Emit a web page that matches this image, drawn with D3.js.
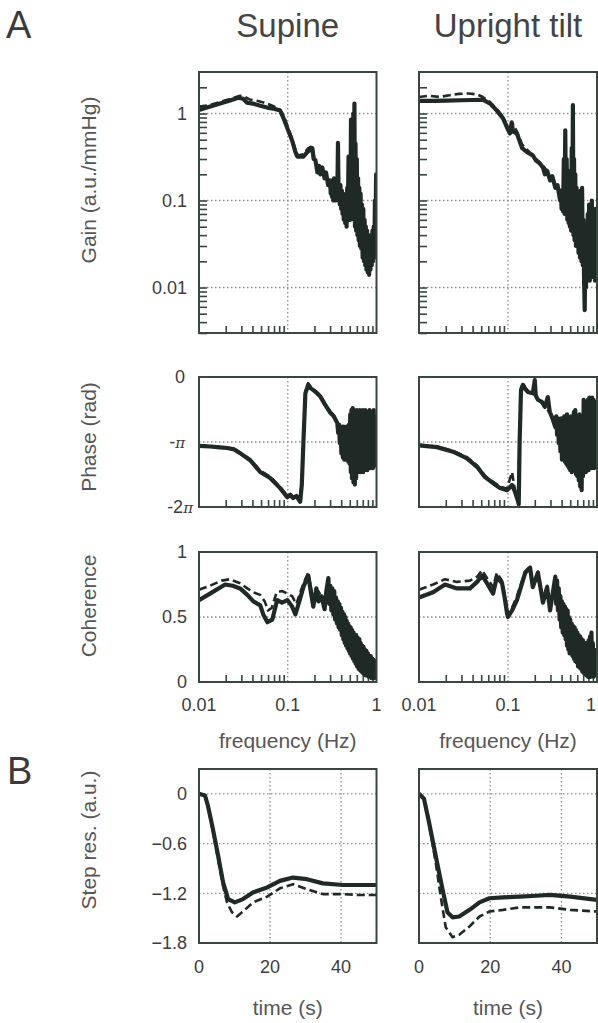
<!DOCTYPE html>
<html>
<head>
<meta charset="utf-8">
<script src="https://cdn.jsdelivr.net/npm/d3@7"></script>
<style>
  body { margin: 0; background: #fff; }
  svg text { font-family: "Liberation Sans", Arial, Helvetica, sans-serif; }
</style>
</head>
<body>
<svg id="fig" width="598" height="1023"></svg>
<script>
// ---- data: [frequency (Hz), value] ----
var supineGainSolid = [
  [0.010,1.10],[0.0123,1.17],[0.0173,1.30],[0.0224,1.41],[0.0276,1.52],[0.0314,1.48],[0.0348,1.33],
  [0.0407,1.30],[0.0489,1.23],[0.0586,1.17],[0.0685,1.14],[0.082,1.08],[0.089,0.90],[0.101,0.64],
  [0.112,0.49],[0.122,0.36],[0.128,0.32],[0.150,0.32],[0.166,0.36],[0.189,0.40],[0.196,0.30],
  [0.205,0.29],[0.216,0.21],[0.225,0.25],[0.233,0.20],[0.245,0.24],[0.260,0.18],[0.270,0.21],
  [0.285,0.15],[0.300,0.17],[0.305,0.12],[0.310,0.16],[0.315,0.11],[0.320,0.17],[0.326,0.10],
  [0.332,0.18],[0.338,0.11],[0.344,0.15],[0.350,0.10],[0.356,0.17],[0.362,0.12],[0.368,0.46],
  [0.374,0.11],[0.380,0.14],[0.386,0.09],[0.393,0.15],[0.400,0.08],[0.407,0.13],[0.414,0.07],
  [0.421,0.12],[0.428,0.06],[0.436,0.10],[0.444,0.055],[0.452,0.09],[0.460,0.05],[0.468,0.14],
  [0.476,0.07],[0.484,0.32],[0.492,0.06],[0.500,0.20],[0.508,0.06],[0.516,0.85],[0.524,0.08],
  [0.532,0.60],[0.540,0.07],[0.548,1.00],[0.556,0.06],[0.564,1.30],[0.572,0.05],[0.580,0.45],
  [0.590,0.045],[0.600,0.30],[0.610,0.04],[0.620,0.18],[0.630,0.035],[0.640,0.14],[0.650,0.03],
  [0.662,0.12],[0.674,0.028],[0.686,0.09],[0.698,0.022],[0.710,0.08],[0.722,0.02],[0.734,0.06],
  [0.746,0.018],[0.758,0.05],[0.770,0.016],[0.782,0.045],[0.795,0.015],[0.810,0.04],[0.825,0.014],
  [0.840,0.035],[0.855,0.016],[0.870,0.04],[0.885,0.018],[0.900,0.045],[0.915,0.02],[0.930,0.05],
  [0.945,0.022],[0.960,0.10],[0.975,0.04],[0.990,0.20],[1.000,0.12]
];
var supineGainDashed = [
  [0.010,1.20],[0.0133,1.25],[0.0173,1.36],[0.0224,1.47],[0.029,1.60],[0.033,1.55],[0.037,1.45],
  [0.045,1.40],[0.055,1.33],[0.068,1.22],[0.080,1.13],[0.090,0.95],[0.100,0.70],[0.112,0.52],
  [0.122,0.38],[0.130,0.33],[0.150,0.34],[0.170,0.40],[0.189,0.42],[0.200,0.30],[0.220,0.22],
  [0.260,0.19],[0.300,0.14],[0.350,0.17],[0.400,0.10],[0.450,0.08],[0.500,0.07],[0.600,0.06],
  [0.700,0.04],[0.800,0.025],[0.900,0.03],[1.000,0.10]
];
var uprightGainSolid = [
  [0.010,1.40],[0.015,1.40],[0.020,1.41],[0.030,1.42],[0.040,1.43],[0.052,1.44],[0.063,1.30],
  [0.075,1.08],[0.088,0.88],[0.0975,0.69],[0.105,0.59],[0.110,0.79],[0.114,0.62],[0.126,0.59],
  [0.144,0.40],[0.164,0.36],[0.190,0.33],[0.205,0.29],[0.225,0.27],[0.247,0.24],[0.260,0.20],
  [0.275,0.22],[0.297,0.17],[0.315,0.19],[0.340,0.14],[0.360,0.15],[0.385,0.10],[0.392,0.13],
  [0.400,0.08],[0.408,0.12],[0.416,0.075],[0.424,0.30],[0.432,0.07],[0.440,0.64],[0.448,0.07],
  [0.456,0.30],[0.464,0.06],[0.472,0.22],[0.480,0.055],[0.488,0.15],[0.496,0.05],[0.504,0.12],
  [0.512,0.045],[0.520,0.40],[0.528,0.05],[0.536,1.25],[0.544,0.04],[0.552,0.30],[0.560,0.035],
  [0.570,0.20],[0.580,0.03],[0.590,0.14],[0.600,0.03],[0.610,0.10],[0.620,0.025],[0.632,0.09],
  [0.644,0.022],[0.656,0.13],[0.668,0.02],[0.680,0.14],[0.692,0.018],[0.704,0.06],[0.716,0.012],
  [0.728,0.0055],[0.740,0.04],[0.752,0.01],[0.764,0.05],[0.776,0.012],[0.788,0.07],[0.800,0.014],
  [0.815,0.09],[0.830,0.012],[0.845,0.08],[0.860,0.015],[0.875,0.10],[0.890,0.014],[0.905,0.07],
  [0.920,0.013],[0.935,0.06],[0.950,0.012],[0.965,0.08],[0.980,0.015],[1.000,0.06]
];
var uprightGainDashed = [
  [0.010,1.55],[0.013,1.60],[0.017,1.55],[0.022,1.62],[0.028,1.68],[0.036,1.70],[0.045,1.66],
  [0.052,1.55],[0.063,1.35],[0.075,1.12],[0.088,0.92],[0.0975,0.72],[0.105,0.64],[0.114,0.75],
  [0.126,0.62],[0.144,0.44],[0.170,0.37],[0.200,0.31],[0.250,0.25],[0.300,0.19],[0.350,0.15],
  [0.400,0.10],[0.450,0.08],[0.500,0.06],[0.600,0.04],[0.700,0.02],[0.800,0.015],[0.900,0.03],
  [1.000,0.05]
];

// phase in rad
var supinePhaseSolid = [
  [0.010,-3.33],[0.0133,-3.36],[0.0173,-3.40],[0.0207,-3.43],[0.025,-3.50],[0.029,-3.68],
  [0.0377,-4.02],[0.0489,-4.59],[0.0634,-4.88],[0.082,-5.37],[0.0987,-5.81],[0.107,-5.70],
  [0.115,-5.85],[0.125,-5.75],[0.138,-6.03],[0.144,-5.20],[0.150,-3.20],[0.158,-0.79],
  [0.170,-0.38],[0.182,-0.55],[0.194,-0.63],[0.215,-0.80],[0.233,-0.94],[0.260,-1.30],
  [0.302,-1.73],[0.330,-1.90],[0.362,-2.23],[0.370,-2.70],[0.378,-2.30],[0.386,-3.20],
  [0.394,-2.40],[0.402,-3.70],[0.410,-2.40],[0.418,-3.90],[0.426,-2.40],[0.434,-4.00],
  [0.442,-2.50],[0.450,-4.00],[0.458,-2.40],[0.466,-4.00],[0.474,-2.40],[0.482,-4.10],
  [0.490,-2.30],[0.498,-4.20],[0.506,-1.80],[0.514,-4.60],[0.522,-1.60],[0.530,-4.90],
  [0.540,-1.50],[0.550,-5.10],[0.560,-1.60],[0.570,-5.20],[0.580,-1.70],[0.590,-4.90],
  [0.600,-1.60],[0.612,-4.60],[0.624,-1.70],[0.636,-4.50],[0.648,-1.60],[0.660,-4.60],
  [0.672,-1.70],[0.684,-4.50],[0.696,-1.60],[0.708,-4.60],[0.720,-1.70],[0.734,-4.50],
  [0.748,-1.60],[0.762,-4.40],[0.776,-1.80],[0.790,-4.50],[0.805,-1.70],[0.820,-4.30],
  [0.835,-1.60],[0.850,-4.40],[0.866,-1.80],[0.882,-4.30],[0.898,-1.70],[0.914,-4.40],
  [0.930,-1.60],[0.946,-4.30],[0.962,-1.90],[0.980,-4.00],[1.000,-2.60]
];
var supinePhaseDashed = [
  [0.010,-3.30],[0.0133,-3.33],[0.0173,-3.38],[0.0207,-3.42],[0.025,-3.48],[0.029,-3.64],
  [0.0377,-3.98],[0.0489,-4.52],[0.0634,-4.82],[0.082,-5.30],[0.0987,-5.75],[0.107,-5.65],
  [0.115,-5.80],[0.125,-5.70],[0.138,-5.95],[0.144,-5.10],[0.150,-3.10],[0.158,-0.70],
  [0.170,-0.30],[0.182,-0.50],[0.194,-0.58],[0.215,-0.75],[0.233,-0.90],[0.260,-1.25],
  [0.302,-1.68],[0.330,-1.85],[0.362,-2.20],[0.400,-3.00],[0.450,-3.20],[0.500,-3.00],
  [0.600,-3.30],[0.700,-3.00],[0.800,-3.20],[0.900,-3.00],[1.000,-3.10]
];
var uprightPhaseSolid = [
  [0.010,-3.30],[0.0159,-3.39],[0.0241,-3.61],[0.0346,-3.93],[0.0449,-4.34],[0.0552,-4.84],
  [0.0678,-5.12],[0.0813,-5.37],[0.0975,-5.47],[0.111,-5.22],[0.120,-5.56],[0.129,-5.97],
  [0.132,-6.15],[0.135,-3.19],[0.140,-0.63],[0.147,-0.38],[0.157,-0.60],[0.167,-0.72],
  [0.190,-0.79],[0.200,-0.15],[0.205,-0.90],[0.217,-1.10],[0.240,-1.20],[0.260,-1.45],
  [0.280,-0.97],[0.295,-1.70],[0.313,-1.95],[0.340,-2.42],[0.348,-1.90],[0.356,-2.80],
  [0.364,-2.00],[0.372,-3.20],[0.380,-2.20],[0.388,-3.60],[0.396,-2.00],[0.404,-4.00],
  [0.412,-2.20],[0.420,-3.80],[0.428,-1.90],[0.436,-4.10],[0.444,-2.00],[0.452,-4.20],
  [0.460,-1.80],[0.468,-4.30],[0.476,-2.10],[0.484,-4.40],[0.492,-2.00],[0.500,-4.50],
  [0.510,-1.90],[0.520,-4.60],[0.530,-2.00],[0.540,-4.40],[0.550,-1.70],[0.560,-4.50],
  [0.570,-1.60],[0.580,-4.70],[0.590,-2.00],[0.600,-4.80],[0.612,-1.90],[0.624,-5.00],
  [0.636,-1.80],[0.648,-5.30],[0.660,-2.00],[0.672,-5.47],[0.684,-1.90],[0.696,-4.80],
  [0.708,-1.10],[0.720,-4.50],[0.734,-1.30],[0.748,-4.60],[0.762,-1.20],[0.776,-4.40],
  [0.790,-1.10],[0.805,-4.50],[0.820,-1.00],[0.835,-4.30],[0.850,-1.20],[0.866,-4.40],
  [0.882,-1.00],[0.898,-4.20],[0.914,-1.10],[0.930,-4.40],[0.946,-1.20],[0.962,-4.00],
  [0.980,-1.50],[1.000,-3.19]
];
var uprightPhaseDashed = [
  [0.010,-3.28],[0.0159,-3.36],[0.0241,-3.57],[0.0346,-3.88],[0.0449,-4.28],[0.0552,-4.78],
  [0.0678,-5.06],[0.0813,-5.30],[0.0975,-5.40],[0.111,-4.60],[0.120,-5.50],[0.129,-5.90],
  [0.135,-3.10],[0.140,-0.55],[0.147,-0.30],[0.157,-0.52],[0.167,-0.65],[0.190,-0.72],
  [0.217,-1.05],[0.260,-1.40],[0.313,-1.90],[0.340,-2.35],[0.400,-3.20],[0.500,-3.00],
  [0.600,-3.30],[0.700,-2.80],[0.800,-3.20],[0.900,-2.90],[1.000,-3.10]
];

var supineCohSolid = [
  [0.010,0.63],[0.0133,0.68],[0.0197,0.75],[0.024,0.74],[0.029,0.72],[0.035,0.67],[0.041,0.62],
  [0.049,0.59],[0.053,0.52],[0.059,0.46],[0.067,0.48],[0.076,0.63],[0.086,0.61],[0.099,0.63],
  [0.112,0.58],[0.122,0.52],[0.135,0.62],[0.150,0.73],[0.170,0.82],[0.194,0.58],[0.210,0.72],
  [0.222,0.62],[0.240,0.66],[0.260,0.56],[0.272,0.70],[0.287,0.80],[0.294,0.60],[0.302,0.74],
  [0.310,0.55],[0.318,0.72],[0.326,0.52],[0.334,0.70],[0.342,0.48],[0.350,0.65],[0.358,0.45],
  [0.366,0.62],[0.374,0.42],[0.382,0.60],[0.390,0.40],[0.398,0.57],[0.406,0.36],[0.414,0.54],
  [0.422,0.33],[0.430,0.52],[0.438,0.30],[0.446,0.50],[0.454,0.28],[0.462,0.47],[0.470,0.26],
  [0.478,0.45],[0.486,0.24],[0.494,0.43],[0.502,0.22],[0.512,0.42],[0.522,0.20],[0.532,0.40],
  [0.542,0.18],[0.552,0.38],[0.562,0.16],[0.572,0.36],[0.582,0.14],[0.592,0.36],[0.604,0.12],
  [0.616,0.34],[0.628,0.10],[0.640,0.33],[0.652,0.09],[0.664,0.30],[0.676,0.08],[0.688,0.28],
  [0.700,0.07],[0.714,0.27],[0.728,0.06],[0.742,0.25],[0.756,0.05],[0.770,0.24],[0.785,0.05],
  [0.800,0.22],[0.815,0.04],[0.830,0.20],[0.846,0.04],[0.862,0.20],[0.878,0.03],[0.894,0.18],
  [0.910,0.03],[0.928,0.17],[0.946,0.03],[0.964,0.16],[0.982,0.04],[1.000,0.15]
];
var supineCohDashed = [
  [0.010,0.71],[0.0133,0.74],[0.018,0.78],[0.022,0.79],[0.029,0.76],[0.035,0.72],[0.041,0.69],
  [0.049,0.67],[0.055,0.62],[0.060,0.55],[0.066,0.57],[0.075,0.69],[0.086,0.70],[0.099,0.68],
  [0.112,0.66],[0.125,0.60],[0.140,0.70],[0.155,0.78],[0.170,0.84],[0.190,0.66],[0.220,0.70],
  [0.260,0.62],[0.300,0.65],[0.350,0.55],[0.400,0.45],[0.500,0.35],[0.600,0.30],[0.700,0.20],
  [0.800,0.15],[0.900,0.12],[1.000,0.12]
];
var uprightCohSolid = [
  [0.010,0.65],[0.0144,0.69],[0.0196,0.75],[0.0267,0.72],[0.0374,0.72],[0.045,0.77],[0.051,0.82],
  [0.058,0.76],[0.068,0.68],[0.075,0.81],[0.0857,0.76],[0.0927,0.63],[0.0975,0.53],[0.100,0.50],
  [0.111,0.55],[0.126,0.63],[0.144,0.76],[0.156,0.84],[0.177,0.88],[0.190,0.73],[0.217,0.84],
  [0.247,0.61],[0.275,0.73],[0.297,0.55],[0.340,0.81],[0.348,0.60],[0.356,0.78],[0.364,0.55],
  [0.372,0.72],[0.380,0.48],[0.388,0.66],[0.396,0.42],[0.404,0.62],[0.412,0.38],[0.420,0.60],
  [0.428,0.36],[0.436,0.58],[0.444,0.33],[0.452,0.56],[0.460,0.28],[0.468,0.55],[0.476,0.25],
  [0.484,0.50],[0.492,0.22],[0.500,0.48],[0.510,0.22],[0.520,0.45],[0.530,0.20],[0.540,0.43],
  [0.550,0.18],[0.560,0.42],[0.570,0.16],[0.580,0.40],[0.590,0.15],[0.600,0.38],[0.612,0.12],
  [0.624,0.36],[0.636,0.11],[0.648,0.35],[0.660,0.10],[0.672,0.33],[0.684,0.08],[0.696,0.32],
  [0.708,0.07],[0.720,0.30],[0.734,0.06],[0.748,0.30],[0.762,0.05],[0.776,0.30],[0.790,0.04],
  [0.805,0.32],[0.820,0.04],[0.835,0.35],[0.850,0.04],[0.866,0.38],[0.882,0.05],[0.898,0.30],
  [0.914,0.04],[0.930,0.25],[0.946,0.05],[0.962,0.22],[0.980,0.05],[1.000,0.09]
];
var uprightCohDashed = [
  [0.010,0.71],[0.0144,0.75],[0.0196,0.79],[0.0267,0.77],[0.0374,0.78],[0.045,0.81],[0.051,0.86],
  [0.058,0.80],[0.068,0.73],[0.075,0.84],[0.0857,0.78],[0.0927,0.66],[0.0975,0.56],[0.100,0.52],
  [0.111,0.57],[0.126,0.66],[0.144,0.78],[0.156,0.85],[0.177,0.89],[0.190,0.75],[0.217,0.85],
  [0.247,0.63],[0.275,0.74],[0.297,0.57],[0.340,0.80],[0.400,0.45],[0.500,0.30],[0.600,0.25],
  [0.700,0.20],[0.800,0.15],[0.900,0.10],[1.000,0.10]
];

// step response: [time (s), a.u.]
var supineStepSolid = [
  [0,0],[1.7,-0.02],[2.5,-0.14],[3.9,-0.42],[5.4,-0.75],[6.8,-1.07],[8.2,-1.27],[10.1,-1.31],
  [12.4,-1.27],[15.2,-1.19],[19.2,-1.13],[22.8,-1.05],[26.5,-1.01],[30.4,-1.03],[34.9,-1.08],
  [40.6,-1.10],[45,-1.10],[50,-1.10]
];
var supineStepDashed = [
  [0,0],[1.7,-0.02],[2.5,-0.15],[3.9,-0.45],[5.4,-0.80],[6.8,-1.12],[7.9,-1.31],[9.3,-1.43],
  [10.7,-1.48],[12.4,-1.42],[15.2,-1.31],[19.2,-1.24],[22.8,-1.14],[26.5,-1.09],[30.4,-1.15],
  [34.9,-1.21],[40.6,-1.21],[45,-1.22],[50,-1.22]
];
var uprightStepSolid = [
  [0,0],[1.4,-0.06],[2.8,-0.34],[4.7,-0.75],[6.6,-1.15],[8.0,-1.43],[9.4,-1.49],[11.3,-1.48],
  [14.2,-1.40],[17,-1.31],[19.8,-1.26],[23.6,-1.25],[28.3,-1.24],[33,-1.23],[36.8,-1.22],
  [42.5,-1.24],[50,-1.28]
];
var uprightStepDashed = [
  [0,0],[1.4,-0.06],[2.8,-0.36],[4.7,-0.83],[6.1,-1.24],[7.5,-1.61],[9.4,-1.73],[11.3,-1.70],
  [14.2,-1.60],[17,-1.48],[19.8,-1.42],[23.6,-1.40],[28.3,-1.37],[33,-1.37],[36.8,-1.37],
  [42.5,-1.40],[50,-1.42]
];

// ---- ticks / labels ----
var columnTitles = ["Supine", "Upright tilt"];
var freqLabels = [0.01, 0.1, 1];
var freqMinor = [0.02,0.03,0.04,0.05,0.06,0.07,0.08,0.09,0.2,0.3,0.4,0.5,0.6,0.7,0.8,0.9];
var gainLabels = [1, 0.1, 0.01];
var gainMinor = [0.003,0.004,0.005,0.006,0.007,0.008,0.009,0.01,0.02,0.03,0.04,0.05,0.06,0.07,
  0.08,0.09,0.1,0.2,0.3,0.4,0.5,0.6,0.7,0.8,0.9,1,2];
var phaseLabels = [[0, "0", ""], [-Math.PI, "-", "\u03c0"], [-2 * Math.PI, "-2", "\u03c0"]];
var cohLabels = [1, 0.5, 0];
var stepLabels = [0, -0.6, -1.2, -1.8];
var timeLabels = [0, 20, 40];

var ink = "#1f2a26", frameInk = "#3a4640", gridInk = "#8c8c8c",
    tickText = "#3c3c3c", labelText = "#565656";

var svg = d3.select("#fig");
var defs = svg.append("defs");

var cols = [[199, 376.5], [419, 597]];
var rows = { gain: [72, 333], phase: [377, 507], coh: [552, 682], step: [769, 943] };

function drawPanel(p) {
  var x = p.x, y = p.y,
      x0 = x.range()[0], x1 = x.range()[1],
      y0 = y.range()[1], y1 = y.range()[0];

  var g = svg.append("g");
  defs.append("clipPath").attr("id", p.id).append("rect")
    .attr("x", x0).attr("y", y0).attr("width", x1 - x0).attr("height", y1 - y0);

  // dotted grid
  g.selectAll("line.gx").data(p.gridX).enter().append("line")
    .attr("x1", function(d) { return x(d); }).attr("x2", function(d) { return x(d); })
    .attr("y1", y0).attr("y2", y1)
    .attr("stroke", gridInk).attr("stroke-width", 1.3).attr("stroke-dasharray", "1.5,2.5");
  g.selectAll("line.gy").data(p.gridY).enter().append("line")
    .attr("y1", function(d) { return y(d); }).attr("y2", function(d) { return y(d); })
    .attr("x1", x0).attr("x2", x1)
    .attr("stroke", gridInk).attr("stroke-width", 1.3).attr("stroke-dasharray", "1.5,2.5");

  // inward minor ticks
  if (p.ticksX) {
    g.append("g").attr("transform", "translate(0," + y1 + ")")
      .attr("color", frameInk)
      .call(d3.axisBottom(x).tickValues(p.ticksX).tickSize(-7).tickFormat(""))
      .call(function(a) { a.select(".domain").remove(); a.selectAll("line").attr("stroke-width", 1.6); });
  }
  if (p.ticksY) {
    g.append("g").attr("transform", "translate(" + x0 + ",0)")
      .attr("color", frameInk)
      .call(d3.axisLeft(y).tickValues(p.ticksY).tickSize(-8).tickFormat(""))
      .call(function(a) { a.select(".domain").remove(); a.selectAll("line").attr("stroke-width", 1.6); });
  }

  // curves
  var line = d3.line().x(function(d) { return x(d[0]); }).y(function(d) { return y(d[1]); });
  var cg = g.append("g").attr("clip-path", "url(#" + p.id + ")");
  cg.append("path").datum(p.dashed).attr("d", line)
    .attr("fill", "none").attr("stroke", ink).attr("stroke-width", 2.6)
    .attr("stroke-dasharray", "8,4").attr("stroke-linejoin", "round");
  cg.append("path").datum(p.solid).attr("d", line)
    .attr("fill", "none").attr("stroke", ink).attr("stroke-width", 4.2)
    .attr("stroke-linejoin", "round").attr("stroke-linecap", "round");

  // frame
  g.append("rect").attr("x", x0).attr("y", y0).attr("width", x1 - x0).attr("height", y1 - y0)
    .attr("fill", "none").attr("stroke", frameInk).attr("stroke-width", 2);
  return g;
}

function yLabel(text, cy) {
  svg.append("text")
    .attr("transform", "translate(96," + cy + ") rotate(-90)")
    .attr("text-anchor", "middle").attr("font-size", 21).attr("fill", labelText)
    .text(text);
}

function leftLabels(y, values, fmt) {
  svg.selectAll(null).data(values).enter().append("text")
    .attr("x", 187).attr("y", function(d) { return y(d); }).attr("dy", "0.36em")
    .attr("text-anchor", "end").attr("font-size", 18).attr("fill", tickText)
    .text(fmt);
}

cols.forEach(function(c, i) {
  var xf = d3.scaleLog().domain([0.01, 1]).range(c);
  var xt = d3.scaleLinear().domain([0, 50]).range(c);

  var yGain = d3.scaleLog().domain([0.003, 3]).range([rows.gain[1], rows.gain[0]]);
  var yPhase = d3.scaleLinear().domain([-2 * Math.PI, 0]).range([rows.phase[1], rows.phase[0]]);
  var yCoh = d3.scaleLinear().domain([0, 1]).range([rows.coh[1], rows.coh[0]]);
  var yStep = d3.scaleLinear().domain([-1.8, 0.3]).range([rows.step[1], rows.step[0]]);

  drawPanel({ id: "gain" + i, x: xf, y: yGain, gridX: [0.1], gridY: [1, 0.1, 0.01],
    ticksX: freqMinor, ticksY: gainMinor,
    solid: i === 0 ? supineGainSolid : uprightGainSolid,
    dashed: i === 0 ? supineGainDashed : uprightGainDashed });
  drawPanel({ id: "phase" + i, x: xf, y: yPhase, gridX: [0.1], gridY: [-Math.PI],
    ticksX: freqMinor,
    solid: i === 0 ? supinePhaseSolid : uprightPhaseSolid,
    dashed: i === 0 ? supinePhaseDashed : uprightPhaseDashed });
  drawPanel({ id: "coh" + i, x: xf, y: yCoh, gridX: [0.1], gridY: [0.5],
    ticksX: freqMinor,
    solid: i === 0 ? supineCohSolid : uprightCohSolid,
    dashed: i === 0 ? supineCohDashed : uprightCohDashed });
  drawPanel({ id: "step" + i, x: xt, y: yStep, gridX: [20, 40], gridY: [0, -0.6, -1.2],
    solid: i === 0 ? supineStepSolid : uprightStepSolid,
    dashed: i === 0 ? supineStepDashed : uprightStepDashed });

  // column title
  svg.append("text").attr("x", (c[0] + c[1]) / 2).attr("y", 37)
    .attr("text-anchor", "middle").attr("font-size", 33).attr("fill", "#444")
    .text(columnTitles[i]);

  // x tick labels
  svg.selectAll(null).data(freqLabels).enter().append("text")
    .attr("x", function(d) { return Math.min(xf(d), 591); }).attr("y", 711)
    .attr("text-anchor", "middle").attr("font-size", 18).attr("fill", tickText)
    .text(function(d) { return String(d); });
  svg.append("text").attr("x", xf(0.1)).attr("y", 748)
    .attr("text-anchor", "middle").attr("font-size", 21).attr("fill", labelText)
    .text("frequency (Hz)");

  svg.selectAll(null).data(timeLabels).enter().append("text")
    .attr("x", function(d) { return xt(d); }).attr("y", 973)
    .attr("text-anchor", "middle").attr("font-size", 18).attr("fill", tickText)
    .text(function(d) { return String(d); });
  svg.append("text").attr("x", xt(25)).attr("y", 1015)
    .attr("text-anchor", "middle").attr("font-size", 21).attr("fill", labelText)
    .text("time (s)");

  if (i === 0) {
    leftLabels(yGain, gainLabels, function(d) { return String(d); });
    leftLabels(yCoh, cohLabels, function(d) { return String(d); });
    leftLabels(yStep, stepLabels, function(d) { return d === 0 ? "0" : "\u2212" + Math.abs(d).toFixed(1); });

    var pl = svg.selectAll(null).data(phaseLabels).enter().append("text")
      .attr("x", function(d, k) { return k === 2 ? 193 : 185; })
      .attr("y", function(d) { return yPhase(d[0]); }).attr("dy", "0.36em")
      .attr("text-anchor", "end").attr("font-size", 18).attr("fill", tickText);
    pl.append("tspan").text(function(d) { return d[1]; });
    pl.append("tspan").attr("font-style", "italic").attr("font-size", 15)
      .attr("font-family", "'DejaVu Serif', serif")
      .text(function(d) { return d[2]; });

    yLabel("Gain (a.u./mmHg)", 180);
    yLabel("Phase (rad)", 437);
    yLabel("Coherence", 606);
    yLabel("Step res. (a.u.)", 840);
  }
});

// panel letters
svg.append("text").attr("x", 6).attr("y", 38).attr("font-size", 38).attr("fill", "#3a3a3a").text("A");
svg.append("text").attr("x", 7).attr("y", 784).attr("font-size", 38).attr("fill", "#3a3a3a").text("B");
</script>
</body>
</html>
